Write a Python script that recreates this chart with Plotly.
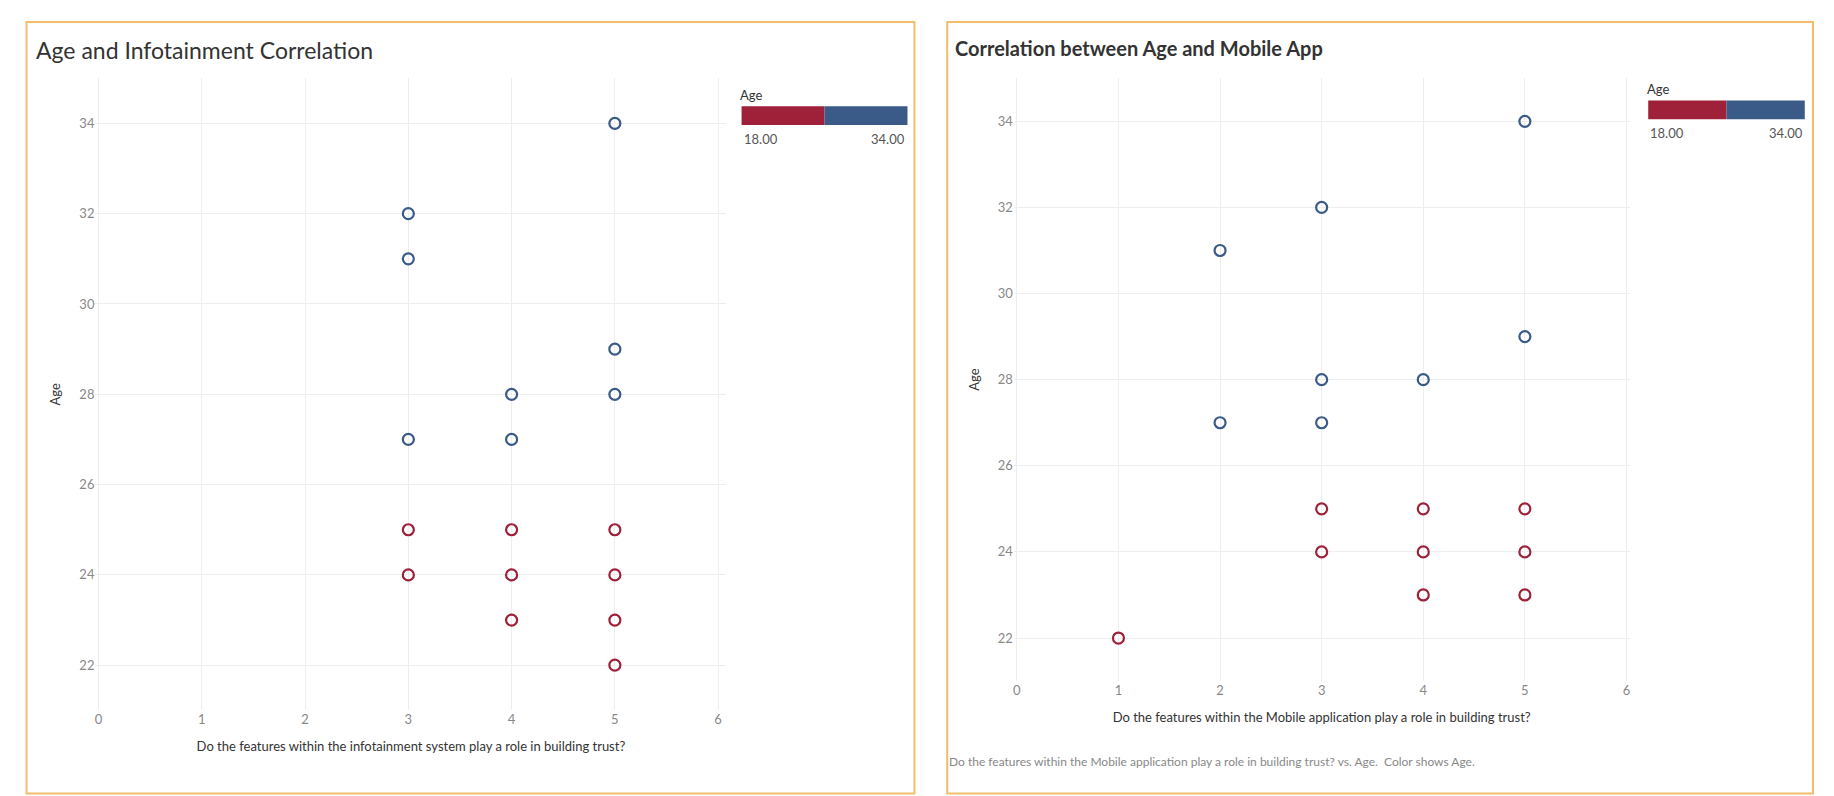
import plotly.graph_objects as go

W, H = 1568.0, 680.0
def px(x): return (x - 6) / W
def py(y): return 1 - y / H

left_x = [3, 3, 3, 3, 3, 4, 4, 4, 4, 4, 5, 5, 5, 5, 5, 5, 5]
left_age = [32, 31, 27, 25, 24, 28, 27, 25, 24, 23, 34, 29, 28, 25, 24, 23, 22]
right_x = [1, 2, 2, 3, 3, 3, 3, 3, 4, 4, 4, 4, 5, 5, 5, 5, 5]
right_age = [22, 31, 27, 32, 28, 27, 25, 24, 28, 25, 24, 23, 34, 29, 25, 24, 23]
x_ticks = [0, 1, 2, 3, 4, 5, 6]
y_ticks = [22, 24, 26, 28, 30, 32, 34]

RED, BLUE = "#9E2139", "#3A5A88"
cscale = [[0, RED], [0.5, RED], [0.5, BLUE], [1, BLUE]]

def trace(x, y, xa, ya):
    return go.Scatter(x=x, y=y, xaxis=xa, yaxis=ya, mode="markers", showlegend=False,
        marker=dict(symbol="circle-open", size=11, line=dict(width=2.2),
                    color=y, colorscale=cscale, cmin=18, cmax=34))

fig = go.Figure([trace(left_x, left_age, "x", "y"), trace(right_x, right_age, "x2", "y2")])
tf = dict(family="Lato, Open Sans, sans-serif", size=13, color="#888")
ax_common = dict(showgrid=True, gridcolor="#EEEEEE", zeroline=False, showline=False, tickfont=tf)
fig.update_layout(
    width=1834, height=796, paper_bgcolor="white", plot_bgcolor="white",
    margin=dict(l=0, r=0, t=0, b=0), font=dict(family="Lato, Open Sans, sans-serif"),
    xaxis=dict(domain=[px(80), px(620)], range=[-0.03, 6.08], tickvals=x_ticks, anchor="y",
               title=dict(text="Do the features within the infotainment system play a role in building trust?",
                          font=dict(size=13, color="#333")), **ax_common),
    yaxis=dict(domain=[py(600), py(60)], range=[21, 35], tickvals=y_ticks, anchor="x",
               title=dict(text="Age", font=dict(size=13, color="#333")), **ax_common),
    xaxis2=dict(domain=[px(866), px(1393)], range=[-0.03, 6.03], tickvals=x_ticks, anchor="y2",
                title=dict(text="Do the features within the Mobile application play a role in building trust?",
                           font=dict(size=13, color="#333")), **ax_common),
    yaxis2=dict(domain=[py(575), py(60)], range=[21, 35], tickvals=y_ticks, anchor="x2",
                title=dict(text="Age", font=dict(size=13, color="#333")), **ax_common),
)
shapes = []
for x0, x1 in [(21, 781), (809, 1550)]:
    shapes.append(dict(type="rect", xref="paper", yref="paper", x0=px(x0), x1=px(x1), y0=py(671), y1=py(12),
                       line=dict(color="#F2BE6A", width=2)))
annots = [
    dict(text="Age and Infotainment Correlation", x=px(27), y=py(36), xanchor="left", yanchor="middle",
         font=dict(size=23, color="#333")),
    dict(text="<b>Correlation between Age and Mobile App</b>", x=px(814), y=py(34), xanchor="left", yanchor="middle",
         font=dict(size=20, color="#333")),
    dict(text="Do the features within the Mobile application play a role in building trust? vs. Age.  Color shows Age.",
         x=px(809), y=py(644), xanchor="left", yanchor="middle", font=dict(size=12, color="#888")),
]
for lx0, lx1, ly0, ly1, ty in [(633, 775, 84, 100, 74), (1409, 1543, 79, 95, 69)]:
    mid = lx0 + (lx1 - lx0) / 2
    shapes.append(dict(type="rect", xref="paper", yref="paper", x0=px(lx0), x1=px(mid), y0=py(ly1), y1=py(ly0),
                       fillcolor=RED, line=dict(width=0)))
    shapes.append(dict(type="rect", xref="paper", yref="paper", x0=px(mid), x1=px(lx1), y0=py(ly1), y1=py(ly0),
                       fillcolor=BLUE, line=dict(width=0)))
    annots += [
        dict(text="Age", x=px(lx0 - 3), y=py(ty), xanchor="left", yanchor="middle", font=dict(size=13, color="#333")),
        dict(text="18.00", x=px(lx0), y=py(ly1 + 12), xanchor="left", yanchor="middle", font=dict(size=13, color="#555")),
        dict(text="34.00", x=px(lx1), y=py(ly1 + 12), xanchor="right", yanchor="middle", font=dict(size=13, color="#555")),
    ]
for a in annots:
    a.update(xref="paper", yref="paper", showarrow=False)
fig.update_layout(shapes=shapes, annotations=annots)
fig.write_html("out.html")
